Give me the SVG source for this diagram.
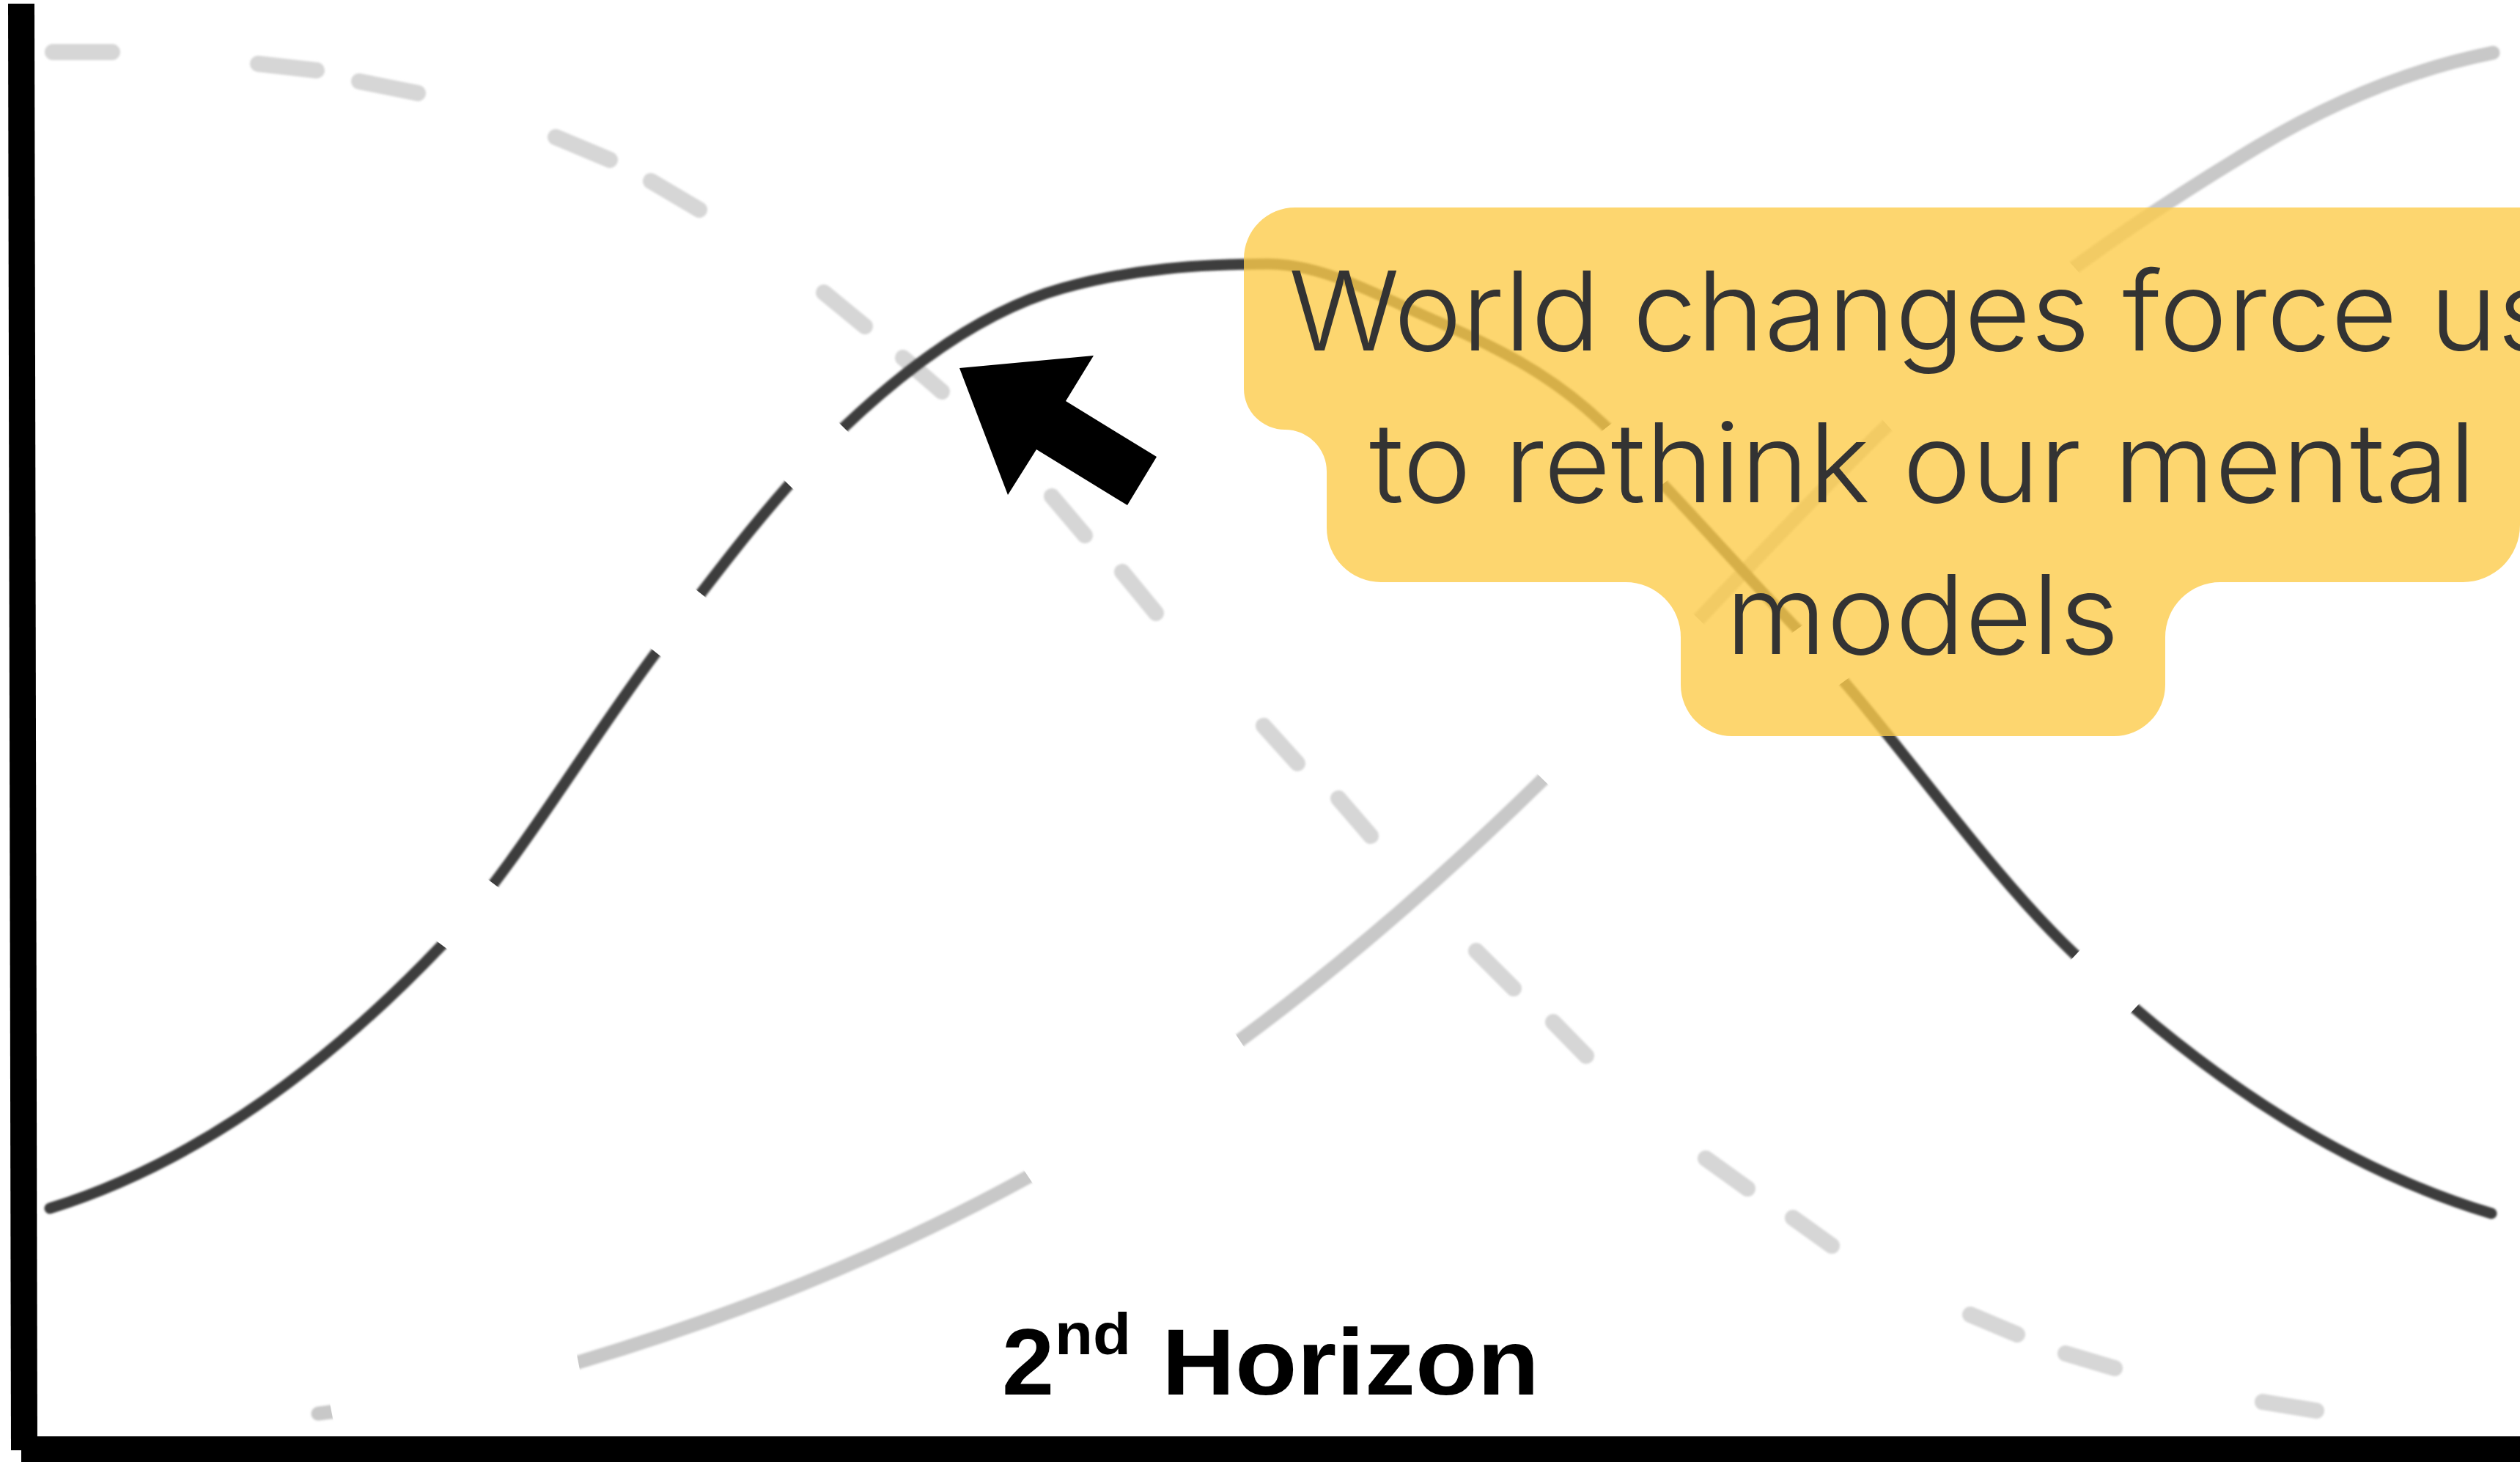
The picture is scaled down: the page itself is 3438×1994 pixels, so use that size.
<svg xmlns="http://www.w3.org/2000/svg" width="3438" height="1994" viewBox="0 0 3438 1994">
  <style>
    .dash { fill: none; stroke: #d6d6d6; stroke-width: 22; stroke-linecap: round; }
    .rise { fill: none; stroke: #c8c8c8; stroke-width: 19; stroke-linecap: round; }
    .bell { fill: none; stroke: #3c3c3c; stroke-width: 15; stroke-linecap: round; }
    .cut { stroke: #000; stroke-linecap: butt; fill: none; }
    .callout-text { font-family: Inter, "Open Sans", "Liberation Sans", sans-serif; font-weight: 300; font-size: 150px; fill: #333333; }
    .label { font-family: "Liberation Sans", Arial, sans-serif; font-weight: 700; fill: #000000; }
  </style>
  <defs>
    <filter id="soft" x="-5%" y="-5%" width="110%" height="110%">
      <feGaussianBlur stdDeviation="1.4"/>
    </filter>
    <!-- gaps in the bell curve -->
    <mask id="bell-gaps" maskUnits="userSpaceOnUse" x="0" y="0" width="3438" height="1994">
      <rect width="3438" height="1994" fill="#fff"/>
      <g class="cut" stroke-width="50">
        <line x1="603" y1="1289" x2="669" y2="1202"/>
        <line x1="895" y1="890" x2="958" y2="811"/>
        <line x1="1075" y1="660" x2="1151" y2="583"/>
        <line x1="2193" y1="582" x2="2260" y2="667"/>
        <line x1="2452" y1="858" x2="2508" y2="935"/>
        <line x1="2832" y1="1302" x2="2911" y2="1377"/>
      </g>
    </mask>
    <!-- gaps in the rising curve -->
    <mask id="rise-gaps" maskUnits="userSpaceOnUse" x="0" y="0" width="3438" height="1994">
      <rect width="3438" height="1994" fill="#fff"/>
      <g class="cut" stroke-width="70">
        <line x1="452" y1="1924" x2="789" y2="1858"/>
        <line x1="1403" y1="1605" x2="1688" y2="1414"/>
        <line x1="2105" y1="1063" x2="2318" y2="845"/>
        <line x1="2575" y1="580" x2="2824" y2="358"/>
      </g>
    </mask>
  </defs>

  <rect width="3438" height="1994" fill="#ffffff"/>

  <!-- chart axes -->
  <g id="axes" fill="#000000">
    <polygon points="11,5 47,5 51,1978 15,1978"/>
    <rect x="29" y="1959" width="3409" height="35"/>
  </g>

  <!-- curves -->
  <g id="connectors">
    <g id="declining-curve" filter="url(#soft)">
      <path class="dash" d="M72,71 L153,71 M352,87 L432,96 M490,111 L570,127 M758,187 L832,218 M888,247 L954,286 M1124,399 L1180,445 M1232,488 L1285,534 M1435,677 L1480,730 M1531,780 L1577,836 M1724,990 L1770,1041 M1826,1089 L1870,1140 M2014,1297 L2065,1348 M2119,1394 L2164,1440 M2327,1580 L2384,1621 M2446,1661 L2499,1699 M2688,1793 L2752,1820 M2818,1846 L2885,1866 M3087,1912 L3160,1924"/>
    </g>
    <g id="rising-curve" mask="url(#rise-gaps)">
      <path class="rise" filter="url(#soft)" d="M434,1928 C552.3,1913.8 670.7,1893.5 789,1858 C993.7,1796.6 1198.3,1717.6 1403,1605 C1637,1476.3 1871,1292.3 2105,1063 C2261.7,909.4 2418.3,732 2575,580 C2743.3,416.7 2911.7,301 3080,200 C3187,135.8 3294,93.4 3401,72"/>
    </g>
    <g id="bell-curve" mask="url(#bell-gaps)">
      <path class="bell" filter="url(#soft)" d="M68,1648 C246.3,1592.7 424.7,1476.2 603,1289 C700.3,1186.8 797.7,1019.4 895,890 C980.3,776.5 1065.7,664 1151,583 C1250.7,488.3 1350.3,420.9 1450,393 C1543.3,366.9 1636.7,360 1730,360 C1800.7,360 1871.3,398.2 1942,430 C2023.3,466.6 2104.7,499.8 2186,577 C2274,660.6 2362,763.6 2450,856 C2576.3,988.6 2702.7,1180 2829,1300 C3019,1480.5 3209,1598 3399,1655"/>
    </g>
  </g>

  <!-- callout -->
  <g id="callout">
    <path fill="#fccc4b" fill-opacity="0.8" d="M1697,353 A70,70 0 0 1 1767,283 H3438 V716 A78,78 0 0 1 3360,794 H3029 A75,75 0 0 0 2954,869 V934 A70,70 0 0 1 2884,1004 H2363 A70,70 0 0 1 2293,934 V869 A75,75 0 0 0 2218,794 H1884 A74,74 0 0 1 1810,720 V643 A57,57 0 0 0 1753,586 A56,56 0 0 1 1697,530 Z"/>
    <text class="callout-text" x="1758" y="478" textLength="1730" lengthAdjust="spacingAndGlyphs">World changes force us</text>
    <text class="callout-text" x="1868" y="685" textLength="1510" lengthAdjust="spacingAndGlyphs">to rethink our mental</text>
    <text class="callout-text" x="2354" y="892" textLength="537" lengthAdjust="spacingAndGlyphs">models</text>
  </g>

  <!-- pointer arrow -->
  <g id="pointer-arrow">
    <polygon fill="#000000" points="1309,502 1492,485 1454,547 1578,623 1538,689 1414,613 1375,675"/>
  </g>

  <!-- horizon label -->
  <g id="horizon-label">
    <text class="label" x="1367" y="1902" font-size="128">2</text>
    <text class="label" x="1439" y="1847" font-size="80" textLength="104" lengthAdjust="spacingAndGlyphs">nd</text>
    <text class="label" x="1585" y="1902" font-size="128" textLength="515" lengthAdjust="spacingAndGlyphs">Horizon</text>
  </g>
</svg>
